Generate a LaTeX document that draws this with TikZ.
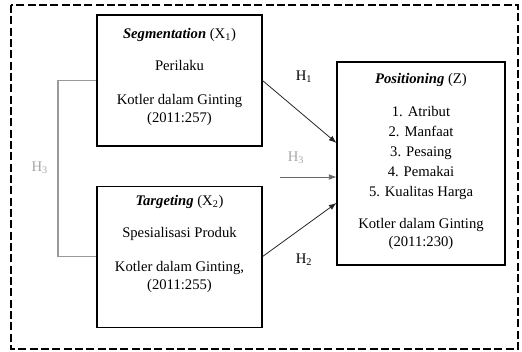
\documentclass[tikz,border=0pt]{standalone}
\usepackage{fontspec}
\setmainfont{Liberation Serif}
\usetikzlibrary{arrows.meta,positioning}

\begin{document}
\begin{tikzpicture}[
    x=0.75pt, y=-0.75pt,
    font=\fontsize{11}{15}\selectfont,
    var/.style={draw, line width=0.8pt, minimum width=123.75pt, inner sep=0pt},
    txt/.style={align=center, inner sep=2pt},
    hyp/.style={font=\fontsize{11}{13}\selectfont},
    arr/.style={-{Latex[length=2mm]}, draw=black!85, line width=0.6pt}
]
\useasboundingbox (0,0) rectangle (522,351);
\draw[line width=1.8pt, dash pattern=on 6pt off 2.5pt] (11,5) rectangle (518,349);

\node[var, minimum height=98.25pt] (seg) at (179.5,80.5) {};
\node[var, minimum height=105.75pt, below=29.25pt of seg] (tar) {};
\node[var, minimum width=126pt, minimum height=152.25pt] (pos) at (421,163.5) {};

\node[txt, below=8pt of seg.north] (segtxt) {\textbf{\textit{Segmentation}} (X\textsubscript{1})\\[9pt]
    Perilaku\\[11pt] Kotler dalam Ginting\\[-1.5pt](2011:257)};
\node[txt, below=5pt of tar.north] (tartxt) {\textbf{\textit{Targeting}} (X\textsubscript{2})\\[9pt]
    Spesialisasi Produk\\[11pt] Kotler dalam Ginting,\\[-1.5pt](2011:255)};
\node[txt, below=7pt of pos.north] (postxt) {\textbf{\textit{Positioning}} (Z)\\[9.75pt]
    1. Atribut\\2. Manfaat\\3. Pesaing\\4. Pemakai\\5. Kualitas Harga\\[9pt]
    Kotler dalam Ginting\\[-1.5pt](2011:230)};

% hipotesis
\draw[arr] (seg.east) -- ([yshift=15.4pt]pos.west);
\draw[arr] (tar.east) -- ([yshift=-29.6pt]pos.west);
\coordinate (midstart) at (280,177);
\draw[arr, draw=black!60] (midstart) -- (midstart -| pos.west);

\coordinate (brk) at (58,168);
\draw[gray!80, line width=1.2pt] (seg.west) -| (brk) |- (tar.west);

\node[hyp] (h1) at (304,77) {H\textsubscript{1}};
\node[hyp] (h2) at (304,260) {H\textsubscript{2}};
\node[hyp, text=gray!70] (h3) at (296,158) {H\textsubscript{3}};
\node[hyp, text=gray!70, left=4pt of brk] (h3b) {H\textsubscript{3}};
\end{tikzpicture}
\end{document}
